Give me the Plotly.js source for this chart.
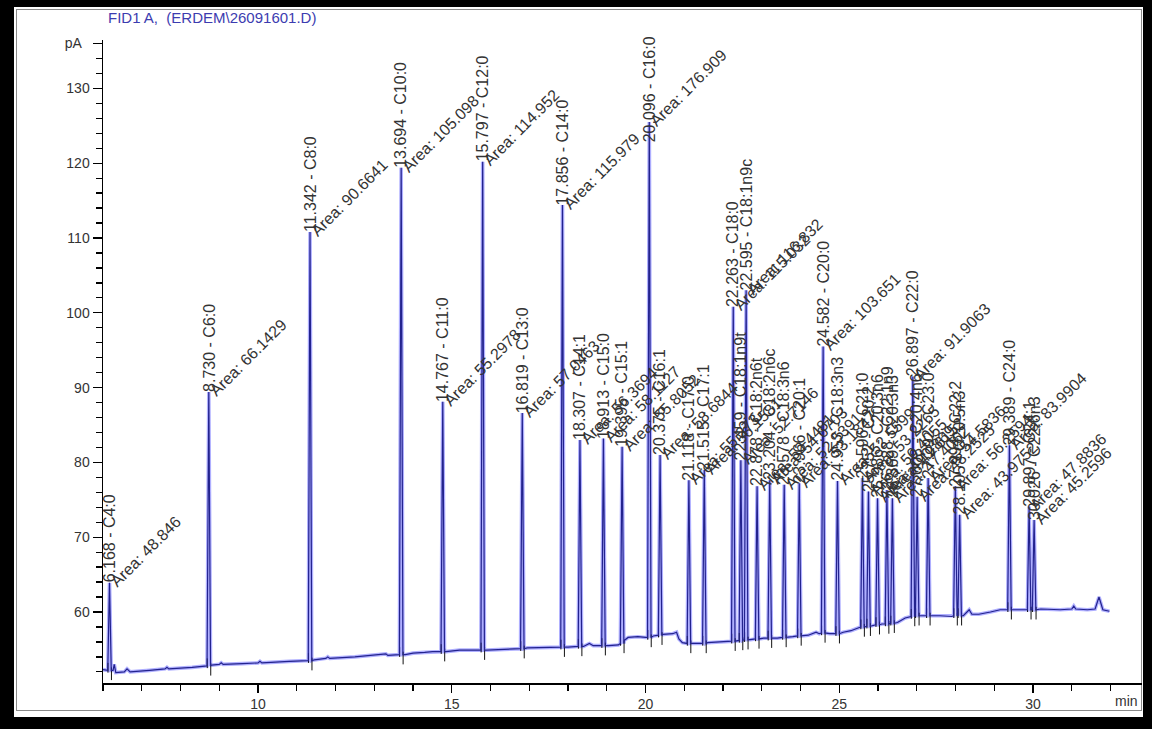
<!DOCTYPE html>
<html>
<head>
<meta charset="utf-8">
<script src="https://cdn.plot.ly/plotly-3.0.1.min.js"></script>
<style>
  html, body { margin: 0; padding: 0; background: #000; }
  #frame { position: absolute; left: 14px; top: 7px; width: 1129px; height: 710px; background: #fff; }
  #rule { position: absolute; left: 2px; top: 2px; width: 1124px; height: 700px; border: 1px solid #8a8a8a; }
  #chart { position: absolute; left: 0; top: 0; width: 1129px; height: 710px; }
</style>
</head>
<body>
<div id="frame"><div id="rule"></div><div id="chart"></div></div>
<script>
// FID1 A signal: integrated peaks (retention time, apex, baseline under peak)
const peakTime = [6.168, 8.730, 11.342, 13.694, 14.767, 15.797, 16.819, 17.856, 18.307, 18.913,
  19.395, 20.096, 20.375, 21.118, 21.515, 22.263, 22.459, 22.595, 22.878, 23.204,
  23.578, 23.966, 24.582, 24.953, 25.596, 25.752, 25.986, 26.228, 26.369, 26.897,
  27.008, 27.292, 27.994, 28.105, 29.389, 29.897, 30.026];
const peakName = ['C4:0', 'C6:0', 'C8:0', 'C10:0', 'C11:0', 'C12:0', 'C13:0', 'C14:0', 'C14:1', 'C15:0',
  'C15:1', 'C16:0', 'C16:1', 'C17:0', 'C17:1', 'C18:0', 'C18:1n9t', 'C18:1n9c', 'C18:2n6t', 'C18:2n6c',
  'C18:3n6', 'C20:1', 'C20:0', 'C18:3n3', 'C21:0', 'C20:2', 'C20:3n6', 'C22:1n9', 'C20:3n3', 'C22:0',
  'C20:4n6', 'C23:0', 'C22:2', 'C20:5n3', 'C24:0', 'C24:1', 'C22:6n3'];
const peakArea = [48.846, 66.1429, 90.6641, 105.098, 55.2978, 114.952, 57.0463, 115.979, 56.3694, 58.1127,
  55.8052, 176.909, 58.6844, 55.2730, 56.1581, 115.032, 52.7146, 116.832, 52.4481, 54.6703,
  52.5391, 53.1847, 103.651, 52.5599, 53.2265, 50.4055, 49.2869, 49.6152, 47.4062, 91.9063,
  48.2525, 54.5836, 56.2594, 43.9752, 83.9904, 47.8836, 45.2596];
const peakApex = [63.9, 89.4, 110.8, 119.4, 88.1, 120.2, 86.6, 114.4, 83.0, 83.2,
  82.1, 125.5, 81.0, 77.6, 79.0, 100.8, 80.3, 103.0, 76.8, 77.6,
  77.0, 77.2, 95.5, 77.5, 77.9, 76.1, 75.2, 76.3, 75.2, 91.5,
  75.4, 77.9, 76.8, 73.0, 82.3, 74.1, 72.3];
const peakBase = [52.2, 52.8, 53.5, 54.3, 54.7, 54.9, 55.1, 55.3, 55.4, 55.5,
  55.8, 56.6, 56.9, 55.8, 55.8, 56.1, 56.2, 56.3, 56.4, 56.5,
  56.6, 56.8, 57.2, 57.1, 58.0, 58.1, 58.3, 58.4, 58.5, 59.4,
  59.5, 59.5, 59.5, 59.5, 60.3, 60.3, 60.3];

// signal between peaks (min, pA)
const baseTime = [6.00, 6.10, 6.26, 6.29, 6.33, 6.55, 6.62, 6.70, 7.20, 7.60, 7.65, 7.70, 8.30, 8.65,
  8.80, 9.00, 9.05, 9.10, 9.60, 10.00, 10.05, 10.10, 10.80, 11.25, 11.45, 11.75, 11.80, 11.85,
  12.50, 13.00, 13.30, 13.35, 13.60, 13.80, 14.00, 14.30, 14.50, 14.85, 15.20, 15.50, 15.90,
  16.30, 16.70, 16.95, 17.40, 17.75, 18.00, 18.20, 18.40, 18.55, 18.65, 18.85, 19.05, 19.30,
  19.45, 19.55, 19.80, 20.00, 20.20, 20.32, 20.45, 20.70, 20.80, 20.86, 20.95, 21.05, 21.30,
  21.45, 21.60, 22.00, 22.18, 22.70, 23.05, 23.40, 23.80, 24.20, 24.40, 24.48, 24.75, 25.10,
  25.30, 25.50, 25.85, 26.10, 26.50, 26.70, 26.80, 27.15, 27.60, 27.90, 28.20, 28.35, 28.42,
  28.60, 28.90, 29.15, 29.60, 29.80, 30.20, 30.70, 31.00, 31.05, 31.10, 31.40, 31.60, 31.70,
  31.80, 31.97];
const baseSignal = [52.3, 52.2, 52.2, 53.0, 51.9, 52.0, 52.4, 52.0, 52.2, 52.4, 52.6, 52.4, 52.6, 52.8,
  52.9, 53.0, 53.2, 53.0, 53.1, 53.2, 53.4, 53.2, 53.4, 53.5, 53.6, 53.8, 54.0, 53.8,
  54.0, 54.2, 54.4, 54.2, 54.3, 54.3, 54.5, 54.6, 54.7, 54.7, 54.9, 54.9, 54.9,
  55.0, 55.1, 55.2, 55.2, 55.3, 55.3, 55.4, 55.4, 55.8, 55.5, 55.5, 55.5, 55.6,
  56.2, 56.6, 56.7, 56.6, 56.8, 56.9, 57.0, 57.1, 57.3, 56.4, 55.9, 55.8, 55.8,
  55.8, 55.9, 56.0, 56.1, 56.3, 56.5, 56.5, 56.7, 56.9, 57.3, 57.1, 57.1, 57.3,
  57.5, 57.9, 58.2, 58.4, 58.6, 59.2, 59.4, 59.5, 59.5, 59.4, 59.5, 60.3, 59.7,
  59.7, 60.0, 60.3, 60.3, 60.3, 60.4, 60.3, 60.4, 60.8, 60.4, 60.3, 60.4, 62.0,
  60.3, 60.1];

const xRange = [6.0, 32.81];
const yRange = [50.51, 136.47];
const plotH = 710 - 33 - 34;

// assemble the detector trace: baseline samples plus each peak's foot, apex, foot
const halfWidth = 0.045;
const pts = baseTime.map((t, i) => [t, baseSignal[i]]);
peakTime.forEach((t, i) => {
  pts.push([t - halfWidth, peakBase[i]]);
  pts.push([t, peakApex[i]]);
  pts.push([t + halfWidth, peakBase[i]]);
});
pts.sort((a, b) => a[0] - b[0]);
const sigX = pts.map(p => p[0]);
const sigY = pts.map(p => p[1]);

// integration event marks at peak start / end
const evX = [], evY = [];
peakTime.forEach((t, i) => {
  const b = peakBase[i];
  evX.push(t - 0.04, t - 0.04, null, t + 0.05, t + 0.05, null);
  evY.push(b - 0.3, b + 1.0, null, b + 0.4, b - 1.3, null);
});

const traces = [
  { x: sigX, y: sigY, type: 'scatter', mode: 'lines', line: { color: 'rgba(110,110,255,0.55)', width: 3.6 }, hoverinfo: 'skip' },
  { x: evX, y: evY, type: 'scatter', mode: 'lines', line: { color: '#111', width: 1 }, hoverinfo: 'skip' },
  { x: sigX, y: sigY, type: 'scatter', mode: 'lines', line: { color: '#23238e', width: 1.2 }, hoverinfo: 'skip' }
];

const labelSize = 16;
const labelFont = { family: 'Liberation Sans, Arial, sans-serif', size: labelSize, color: '#333' };
const annotations = [];
peakTime.forEach((t, i) => {
  const rtText = t.toFixed(3) + ' - ' + peakName[i];
  // a retention-time label that would run past the top of the plot is pushed down to fit
  const apexPx = (peakApex[i] - yRange[0]) / (yRange[1] - yRange[0]) * plotH;
  const textPx = rtText.length * labelSize * 0.54;
  const rtLabel = {
    x: t, xref: 'x', showarrow: false, text: rtText, textangle: -90,
    xanchor: 'center', font: labelFont
  };
  if (apexPx + textPx > plotH + 4) {
    Object.assign(rtLabel, { y: 1, yref: 'paper', yanchor: 'top', yshift: 6 });
  } else {
    Object.assign(rtLabel, { y: peakApex[i], yref: 'y', yanchor: 'bottom', yshift: -2 });
  }
  annotations.push(rtLabel);
  annotations.push({
    x: t, y: peakApex[i], xref: 'x', yref: 'y', showarrow: false,
    text: 'Area: ' + peakArea[i], textangle: -45,
    xanchor: 'left', yanchor: 'bottom', xshift: -5, yshift: -10, font: labelFont
  });
});
annotations.push({
  x: 0.972, y: -0.028, xref: 'paper', yref: 'paper', showarrow: false,
  text: 'min', xanchor: 'left', yanchor: 'middle',
  font: { family: 'Liberation Sans, Arial, sans-serif', size: 14, color: '#333' }
});

const yTickVals = [60, 70, 80, 90, 100, 110, 120, 130, 136];
const yTickText = ['60', '70', '80', '90', '100', '110', '120', '130', 'pA\u00a0\u00a0'];

const layout = {
  width: 1129, height: 710,
  margin: { l: 89, r: 1, t: 33, b: 34 },
  paper_bgcolor: 'rgba(0,0,0,0)', plot_bgcolor: 'rgba(0,0,0,0)',
  showlegend: false,
  title: {
    text: 'FID1 A,  (ERDEM\\26091601.D)',
    x: 94 / 1129, xanchor: 'left', xref: 'container',
    y: 1 - 11 / 710, yanchor: 'middle', yref: 'container',
    font: { family: 'Liberation Sans, Arial, sans-serif', size: 15, color: '#3c3cb0' }
  },
  xaxis: {
    range: xRange, showgrid: false, zeroline: false,
    showline: true, linecolor: '#000', linewidth: 1.5,
    tickmode: 'array', tickvals: [10, 15, 20, 25, 30],
    ticks: 'outside', ticklen: 8, tickwidth: 1.3, tickcolor: '#000',
    minor: { tickmode: 'linear', tick0: 6, dtick: 1, ticks: 'outside', ticklen: 6, tickwidth: 1.3, tickcolor: '#000' },
    tickfont: { family: 'Liberation Sans, Arial, sans-serif', size: 14, color: '#333' }
  },
  yaxis: {
    range: yRange, showgrid: false, zeroline: false,
    showline: true, linecolor: '#000', linewidth: 1.5,
    tickmode: 'array', tickvals: yTickVals, ticktext: yTickText,
    ticks: 'outside', ticklen: 9, tickwidth: 1.3, tickcolor: '#000',
    minor: { tickmode: 'linear', tick0: 50, dtick: 2, ticks: 'outside', ticklen: 6, tickwidth: 1.3, tickcolor: '#000' },
    tickfont: { family: 'Liberation Sans, Arial, sans-serif', size: 14, color: '#333' }
  },
  annotations: annotations
};

Plotly.newPlot('chart', traces, layout, { staticPlot: true, displayModeBar: false });
</script>
</body>
</html>
